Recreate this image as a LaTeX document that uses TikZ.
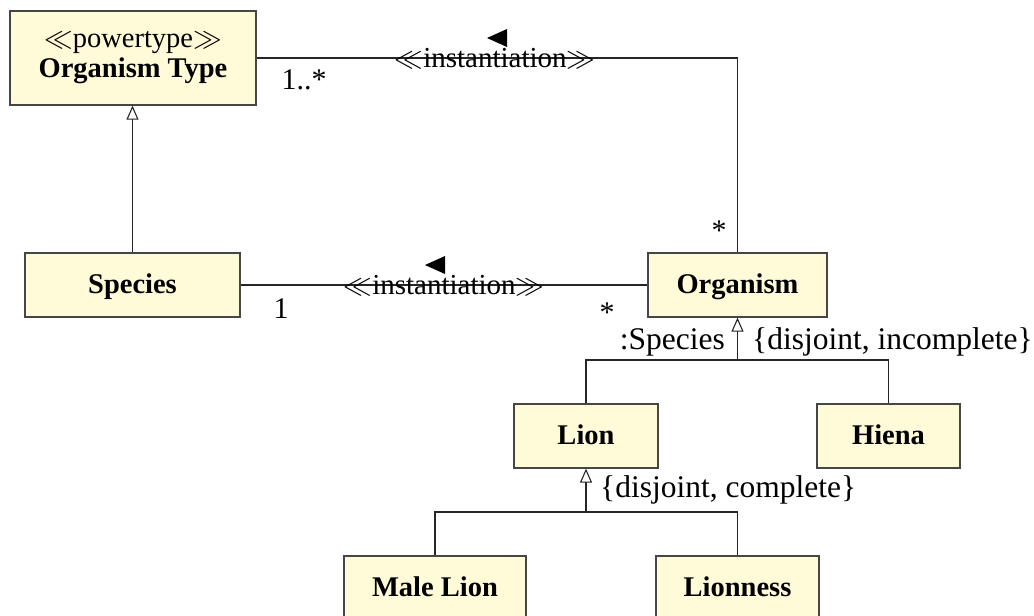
\documentclass[tikz,border=0pt]{standalone}
\usepackage{fontspec}
\setmainfont{Liberation Serif}
\usetikzlibrary{arrows.meta,calc}
\definecolor{boxfill}{RGB}{255,250,215}
\definecolor{boxline}{RGB}{70,70,70}
\tikzset{
  cls/.style={draw=boxline, line width=1.2pt, fill=boxfill, inner sep=0pt, anchor=center,
    font=\fontsize{28.5}{31}\selectfont\bfseries, align=center},
  one/.style={cls, text height=20pt, text depth=4pt},
  conn/.style={draw=black!85, line width=1.2pt},
  gen/.style={conn, -{Triangle[open, length=14pt, width=12pt, line width=1.1pt]}},
  lbl/.style={font=\fontsize{30}{33}\selectfont, inner sep=0pt},
  cons/.style={font=\fontsize{31.5}{34}\selectfont, inner sep=0pt},
  dir/.style={fill=black, draw=none}
}
\newcommand{\stereo}[1]{\scalebox{1.15}{$\ll$}#1\scalebox{1.15}{$\gg$}}
\begin{document}
\begin{tikzpicture}[x=1pt,y=-1pt]
\useasboundingbox (0,0) rectangle (1034,616);
\clip (0,0) rectangle (1034,616);
% classes
\node[cls, minimum width=246pt, minimum height=94pt] (ot) at (133,58)
  {{\mdseries\fontsize{28.5}{31}\selectfont \stereo{powertype}}\\[-1pt]Organism Type};
\node[one, minimum width=215pt, minimum height=64pt] (sp) at (132.5,285) {Species};
\node[one, minimum width=179pt, minimum height=64pt] (org) at (737.5,285) {Organism};
\node[one, minimum width=144pt, minimum height=64pt] (lion) at (586,436) {Lion};
\node[one, minimum width=143pt, minimum height=64pt] (hiena) at (888.5,436) {Hiena};
\node[one, minimum width=182pt, minimum height=64pt] (male) at (435,588) {Male Lion};
\node[one, minimum width=163pt, minimum height=64pt] (lioness) at (737.5,588) {Lionness};

% instantiation OT - Organism
\draw[conn] (ot.east) -| (org.north);
\node[lbl, font=\fontsize{29}{32}\selectfont] (inst1) at (495,58) {\stereo{instantiation}};
\fill[dir] (487,38) -- (507,29) -- (507,47) -- cycle;
\node[lbl, anchor=base] (m1) at (304,89) {1..*};
\node[lbl, anchor=base] (m2) at (719,240) {*};

% instantiation Species - Organism
\draw[conn] (sp.east) -- (org.west);
\node[lbl, font=\fontsize{29}{32}\selectfont] (inst2) at (444,285) {\stereo{instantiation}};
\fill[dir] (425,265) -- (445,256) -- (445,274) -- cycle;
\node[lbl, anchor=base] (m3) at (281,318) {1};
\node[lbl, anchor=base] (m4) at (607,322) {*};

% generalization Species -> Organism Type
\draw[gen] (sp.north) -- (sp.north |- ot.south);

% generalization Lion, Hiena -> Organism
\coordinate (g1) at (737.5,360);
\draw[conn] (lion.north) |- (g1) -| (hiena.north);
\draw[gen] (g1) -- (org.south);
\node[cons, anchor=east] (setlbl) at (725,342) {:Species};
\node[cons, anchor=west] (c1) at (752,342) {\{disjoint, incomplete\}};

% generalization Male Lion, Lionness -> Lion
\coordinate (g2) at (586,512);
\draw[conn] (male.north) |- (g2) -| (lioness.north);
\draw[gen] (g2) -- (lion.south);
\node[cons, anchor=west] (c2) at (600,490) {\{disjoint, complete\}};
\end{tikzpicture}
\end{document}
